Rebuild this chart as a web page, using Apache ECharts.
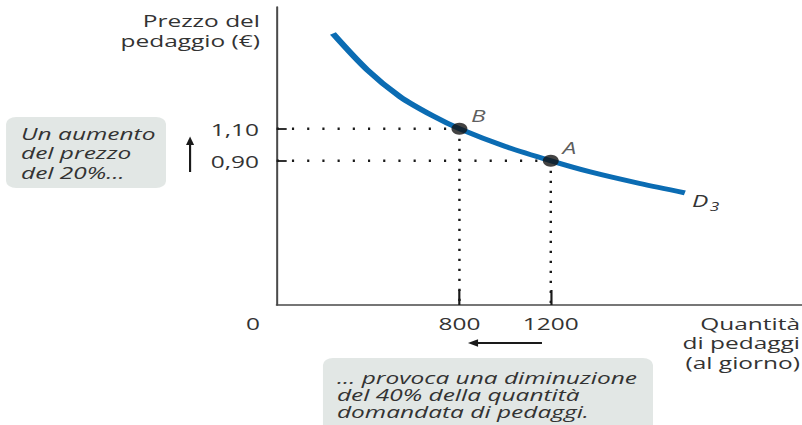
<!DOCTYPE html>
<html>
<head>
<meta charset="utf-8">
<script src="https://cdn.jsdelivr.net/npm/echarts@6/dist/echarts.min.js"></script>
<style>
  html, body { margin: 0; padding: 0; background: #ffffff; overflow: hidden; }
  /* The figure is laid out on a narrower canvas and widened horizontally */
  #chart { width: 557px; height: 425px; transform: scaleX(1.439856); transform-origin: 0 0; }
</style>
</head>
<body>
<div id="chart"></div>
<script>
// Demand curve D3: quantity of tolls per day and toll price (€)
const demandQuantity = [246, 395, 540, 684, 800, 1000, 1200, 1371, 1590, 1787];
const demandPrice    = [1.694, 1.469, 1.30, 1.18, 1.10, 0.99, 0.90, 0.831, 0.758, 0.70];

// Highlighted points on the curve
const pointNames = ['B', 'A'];
const pointQuantity = [800, 1200];
const pointPrice = [1.10, 0.90];

// Tick labels
const priceTicks = [0.90, 1.10];
const quantityTicks = [800, 1200];

const FONT = '"Open Sans", "Noto Sans", sans-serif';
const TEXT = '#333333';
const INK = '#1a1a1a';
const BOX = '#e2e7e5';

const demandData = demandQuantity.map((q, i) => [q, demandPrice[i]]);

// Dotted guides from each point to both axes
const guideSeries = [];
pointQuantity.forEach((q, i) => {
  const p = pointPrice[i];
  guideSeries.push({
    type: 'line', silent: true, symbol: 'none', z: 1,
    data: [[0, p], [q, p]],
    lineStyle: { color: INK, width: 2.4, type: [1.5, 9.06], cap: 'butt' }
  });
  guideSeries.push({
    type: 'line', silent: true, symbol: 'none', z: 1,
    data: [[q, p], [q, 0]],
    lineStyle: { color: INK, width: 1.7, type: [2.2, 7.8], cap: 'butt' }
  });
});

const chart = echarts.init(document.getElementById('chart'), null, { renderer: 'svg' });

chart.setOption({
  animation: false,
  backgroundColor: '#ffffff',
  grid: { left: 192.2, right: 0, top: 7, bottom: 120, containLabel: false },
  xAxis: {
    type: 'value', min: 0, max: 2300,
    splitLine: { show: false },
    axisLine: { show: true, onZero: false, lineStyle: { color: '#4a4a4a', width: 1.5 } },
    axisTick: { show: true, inside: true, length: 15, customValues: quantityTicks,
                lineStyle: { color: INK, width: 1.5 } },
    axisLabel: { show: true, customValues: quantityTicks, margin: 10,
                 fontSize: 17, fontFamily: FONT, color: TEXT,
                 formatter: v => String(v) }
  },
  yAxis: {
    type: 'value', min: 0, max: 1.86,
    splitLine: { show: false },
    axisLine: { show: true, onZero: false, lineStyle: { color: '#4a4a4a', width: 1.4 } },
    axisTick: { show: true, inside: true, length: 6.9, customValues: priceTicks,
                lineStyle: { color: INK, width: 1.8 } },
    axisLabel: { show: true, customValues: priceTicks, margin: 12.3,
                 fontSize: 17, fontFamily: FONT, color: TEXT,
                 formatter: v => v.toFixed(2).replace('.', ',') }
  },
  series: [
    ...guideSeries,
    {
      type: 'line', name: 'D3', data: demandData, smooth: 0.3,
      symbol: 'none', z: 3,
      lineStyle: { color: '#0b6cb3', width: 4.8, cap: 'butt' },
      endLabel: {
        show: true, distance: 5, offset: [0, 7],
        formatter: '{d|D}{s|3}',
        rich: {
          d: { fontSize: 17, fontStyle: 'italic', fontFamily: FONT, color: TEXT, lineHeight: 22 },
          s: { fontSize: 12, fontStyle: 'italic', fontFamily: FONT, color: TEXT,
               lineHeight: 22, padding: [12, 0, 0, 1] }
        }
      }
    },
    {
      type: 'scatter', z: 4, symbolSize: [11.1, 12],
      itemStyle: { color: '#141414' },
      data: pointQuantity.map((q, i) => ({ value: [q, pointPrice[i]], name: pointNames[i] })),
      label: {
        show: true, position: 'right', distance: 2.5, offset: [0, -14],
        formatter: '{b}', fontSize: 17, fontStyle: 'italic', fontFamily: FONT, color: TEXT
      }
    }
  ],
  graphic: [
    // Axis titles
    { type: 'text', x: 180.6, y: 30, silent: true,
      style: { text: 'Prezzo del\npedaggio (€)', fontSize: 17, fontFamily: FONT, fill: TEXT,
               lineHeight: 19.5, align: 'right', verticalAlign: 'middle' } },
    { type: 'text', x: 555.6, y: 342.5, silent: true,
      style: { text: 'Quantità\ndi pedaggi\n(al giorno)', fontSize: 17, fontFamily: FONT, fill: TEXT,
               lineHeight: 19.5, align: 'right', verticalAlign: 'middle' } },
    { type: 'text', x: 175.7, y: 323.5, silent: true,
      style: { text: '0', fontSize: 17, fontFamily: FONT, fill: TEXT,
               align: 'center', verticalAlign: 'middle' } },

    // Note about the price increase
    { type: 'rect', silent: true, shape: { x: 4.2, y: 117, width: 111.1, height: 71, r: 7 },
      style: { fill: BOX } },
    { type: 'text', x: 14.6, y: 152.5, silent: true,
      style: { text: 'Un aumento\ndel prezzo\ndel 20%...', fontSize: 17, fontStyle: 'italic',
               fontFamily: FONT, fill: TEXT, lineHeight: 19.5, align: 'left', verticalAlign: 'middle' } },
    { type: 'line', silent: true, shape: { x1: 132, y1: 172, x2: 132, y2: 143 },
      style: { stroke: INK, lineWidth: 1.5 } },
    { type: 'polygon', silent: true, shape: { points: [[132, 136.5], [129.2, 145], [134.8, 145]] },
      style: { fill: INK } },

    // Note about the quantity decrease
    { type: 'line', silent: true, shape: { x1: 376.4, y1: 343, x2: 330, y2: 343 },
      style: { stroke: INK, lineWidth: 2 } },
    { type: 'polygon', silent: true, shape: { points: [[325, 343], [332, 339.3], [332, 346.7]] },
      style: { fill: INK } },
    { type: 'rect', silent: true, shape: { x: 224.3, y: 358, width: 229.2, height: 80, r: 7 },
      style: { fill: BOX } },
    { type: 'text', x: 234, y: 394, silent: true,
      style: { text: '... provoca una diminuzione\ndel 40% della quantità\ndomandata di pedaggi.',
               fontSize: 17, fontStyle: 'italic', fontFamily: FONT, fill: TEXT,
               lineHeight: 17, align: 'left', verticalAlign: 'middle' } }
  ]
});
</script>
</body>
</html>
